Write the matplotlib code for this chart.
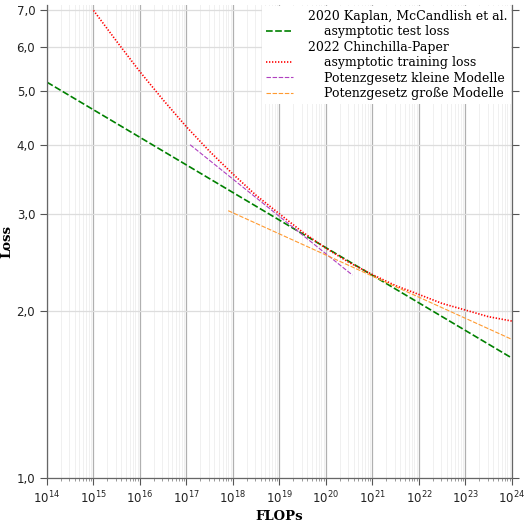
import matplotlib
matplotlib.use("Agg")
import matplotlib.pyplot as plt
from matplotlib.ticker import FixedLocator, FuncFormatter, NullLocator, LogLocator
from matplotlib.lines import Line2D

# --- data ---
kaplan_flops = [1e14, 1e24]
kaplan_loss = [5.19, 1.646]

chinchilla_flops = [1e15, 3.16e15, 1e16, 3.16e16, 1e17, 3.16e17, 1e18, 3.16e18,
                    1e19, 3.16e19, 1e20, 3.16e20, 1e21, 3.16e21, 1e22, 3.16e22,
                    1e23, 3.16e23, 1e24]
chinchilla_loss = [7.0, 6.15, 5.42, 4.82, 4.31, 3.89, 3.54, 3.24,
                   3.0, 2.78, 2.6, 2.45, 2.33, 2.225, 2.145, 2.066,
                   2.01, 1.955, 1.92]

small_flops = [1.2e17, 3.7e20]
small_loss = [4.0, 2.326]

large_flops = [7.9e17, 1e24]
large_loss = [3.04, 1.779]

x_ticks = [1e14, 1e15, 1e16, 1e17, 1e18, 1e19, 1e20, 1e21, 1e22, 1e23, 1e24]
y_ticks = [1.0, 2.0, 3.0, 4.0, 5.0, 6.0, 7.0]

fig = plt.figure(figsize=(5.25, 5.25), dpi=100)
ax = fig.add_axes([0.0895, 0.090, 0.8855, 0.900])

ax.set_xscale("log")
ax.set_yscale("log")

ax.plot(kaplan_flops, kaplan_loss, color="green", linestyle=(0, (4, 1.5)), lw=1.2)
ax.plot(chinchilla_flops, chinchilla_loss, color="red", linestyle=(0, (0.8, 1.0)), lw=1.2)
ax.plot(small_flops, small_loss, color="#b040c0", linestyle=(0, (4, 1.5)), lw=0.8)
ax.plot(large_flops, large_loss, color="#ff9a30", linestyle=(0, (4, 1.5)), lw=0.8)

ax.set_xlim(1e14, 1e24)
ax.set_ylim(1.0, 7.15)

ax.yaxis.set_major_locator(FixedLocator(y_ticks))
ax.yaxis.set_minor_locator(NullLocator())
ax.yaxis.set_major_formatter(FuncFormatter(lambda v, p: f"{v:.1f}".replace(".", ",")))
ax.xaxis.set_major_locator(FixedLocator(x_ticks))
ax.xaxis.set_minor_locator(LogLocator(base=10, subs=range(2, 10), numticks=200))

ax.grid(True, which="major", axis="x", color="#b0b0b0", lw=0.9)
ax.grid(True, which="minor", axis="x", color="#f0f0f0", lw=0.7)
ax.grid(True, which="major", axis="y", color="#dddddd", lw=0.9)
ax.set_axisbelow(True)

ax.spines["top"].set_visible(False)
for side in ["left", "bottom", "right"]:
    ax.spines[side].set_color("#666666")
    ax.spines[side].set_linewidth(0.9)

ax.tick_params(axis="both", which="major", labelsize=8.5, colors="#555555",
               labelcolor="#222222", length=5, width=0.8)
ax.tick_params(axis="y", right=True)
ax.tick_params(axis="x", which="minor", length=2.5, width=0.6, colors="#888888")

ax.set_xlabel("FLOPs", family="DejaVu Serif", weight="bold", fontsize=9.5, labelpad=3)
ax.set_ylabel("Loss", family="DejaVu Serif", weight="bold", fontsize=9.5, labelpad=2)

blank = Line2D([], [], color="none")
handles = [
    blank,
    Line2D([], [], color="green", linestyle=(0, (4, 1.5)), lw=1.2),
    blank,
    Line2D([], [], color="red", linestyle=(0, (0.8, 1.0)), lw=1.2),
    Line2D([], [], color="#b040c0", linestyle=(0, (4, 1.5)), lw=0.8),
    Line2D([], [], color="#ff9a30", linestyle=(0, (4, 1.5)), lw=0.8),
]
labels = [
    "2020 Kaplan, McCandlish et al.",
    "    asymptotic test loss",
    "2022 Chinchilla-Paper",
    "    asymptotic training loss",
    "    Potenzgesetz kleine Modelle",
    "    Potenzgesetz große Modelle",
]
leg = ax.legend(handles, labels, loc="upper right", prop={"family": "DejaVu Serif", "size": 9},
                frameon=True, framealpha=1, facecolor="white", edgecolor="none",
                fancybox=False, labelspacing=0.2, handlelength=2.2, handletextpad=1.2,
                borderaxespad=0.05, borderpad=0.3)

fig.savefig("out.png", dpi=100)
